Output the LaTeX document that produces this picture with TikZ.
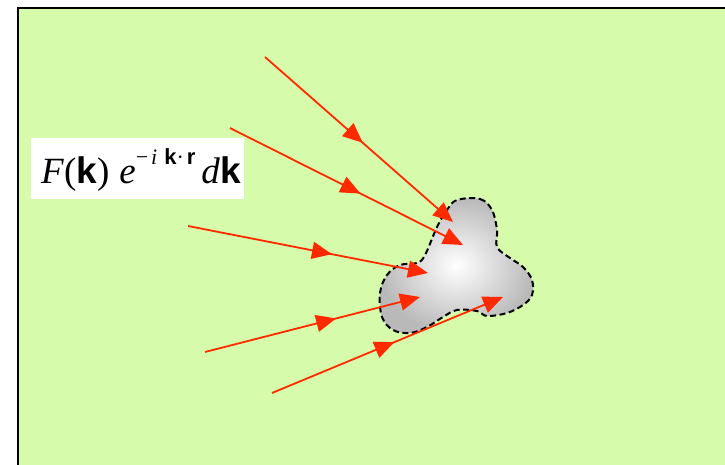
\documentclass[tikz,border=0pt]{standalone}
\usepackage{fontspec}
\setmainfont{Liberation Serif}
\setsansfont{Liberation Sans}
\usetikzlibrary{arrows.meta,decorations.markings}
\definecolor{bggreen}{RGB}{214,251,170}
\definecolor{rayred}{RGB}{255,42,0}
\definecolor{blobgray}{RGB}{185,185,185}
\tikzset{
  ray/.style={draw=rayred, line width=1.8pt,
    -{Triangle[length=20pt,width=17pt,fill=rayred]},
    postaction={decorate},
    decoration={markings, mark=at position #1 with {\arrow{Triangle[length=20pt,width=17pt,fill=rayred]}}}},
  ray/.default=0.55,
  formulabox/.style={fill=white, inner sep=0pt, minimum width=213pt, minimum height=61pt, anchor=north west},
}
\newcommand{\bk}[1]{\textsf{\bfseries #1}}
\begin{document}
\begin{tikzpicture}[x=1pt,y=-1pt]
\useasboundingbox (0,0) rectangle (725,465);
\begin{scope}
\clip (0,0) rectangle (725,465);
\fill[white] (0,0) rectangle (725,465);
\fill[bggreen] (18,8) rectangle (740,480);
\draw[black, line width=1.5pt] (18,8) rectangle (740,480);
\end{scope}
% scatterer
\shade[inner color=white, outer color=blobgray, draw=black, dash pattern=on 6pt off 3.5pt, line width=2pt]
  plot[smooth cycle, tension=0.6] coordinates {
   (457,200) (480,199) (492,210) (497,230) (497,247) (510,258) (523,267) (532,280)
   (532,295) (523,305) (507,313) (487,316) (477,311) (457,310) (443,317) (427,327)
   (410,333) (393,330) (382,317) (380,293) (387,275) (400,265) (417,263) (425,255)
   (437,227) (447,210)};
% rays
\coordinate (s1) at (265,57);  \coordinate (e1) at (453,222);
\coordinate (s2) at (230,128); \coordinate (e2) at (463,245);
\coordinate (s3) at (188,226); \coordinate (e3) at (428,273);
\coordinate (s4) at (205,352); \coordinate (e4) at (420,297);
\coordinate (s5) at (272,393); \coordinate (e5) at (503,297);
\draw[ray=0.52] (s1) -- (e1);
\draw[ray=0.56] (s2) -- (e2);
\draw[ray=0.60] (s3) -- (e3);
\draw[ray=0.61] (s4) -- (e4);
\draw[ray=0.53] (s5) -- (e5);
% formula
\node[formulabox] (box) at (31,138) {};
\node[anchor=base west, inner sep=0pt, font=\fontsize{37}{40}\selectfont] (formula) at (41,183)
  {\textit{F}(\bk{k})\hspace{10pt}\textit{e}\raisebox{19pt}{\fontsize{22}{23}\selectfont −\hspace{3pt}\textit{i}\hspace{7pt}\bk{k}\textperiodcentered\hspace{3pt}\bk{r}}\hspace{6pt}\textit{d}\bk{k}};
\end{tikzpicture}
\end{document}
